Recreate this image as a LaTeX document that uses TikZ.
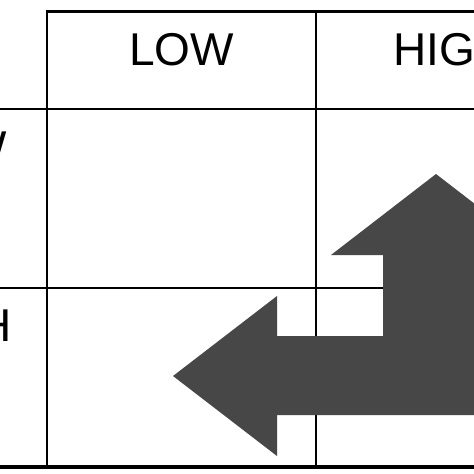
\documentclass[tikz,border=0pt]{standalone}
\usepackage{fontspec}
\setmainfont{Liberation Sans}
\begin{document}
\begin{tikzpicture}[x=1pt,y=-1pt,
  lbl/.style={font=\fontsize{46}{50}\selectfont, inner sep=0pt, anchor=base},
  thin grid/.style={line width=1.5pt, black},
  thick grid/.style={line width=3.2pt, black},
  bigarrow/.style={fill=black!72, draw=none}]
\useasboundingbox (0,0) rectangle (474,474);
\clip (0,0) rectangle (474,474);
\fill[white] (0,0) rectangle (474,474);
% grid
\draw[thin grid] (0,109) -- (474,109);
\draw[thin grid] (0,288) -- (474,288);
\draw[thin grid] (47,11.5) -- (47,467);
\draw[thin grid] (316,11.5) -- (316,467);
\draw[thick grid] (45.5,11.5) -- (474,11.5);
\draw[thick grid] (0,467) -- (474,467);
% labels
\node[lbl] (collow) at (181.5,65) {LOW};
\node[lbl] (colhigh) at (451,65) {HIGH};
\node[lbl] (rowlow) at (-45.5,163) {LOW};
\node[lbl] (rowhigh) at (-45.5,341) {HIGH};
% arrow
\fill[bigarrow] (436,174) -- (331,255) -- (383,255) -- (383,336) -- (277,336)
  -- (277,296) -- (173,376) -- (277,456) -- (277,415) -- (489,415)
  -- (489,255) -- (541,255) -- cycle;
\end{tikzpicture}
\end{document}
